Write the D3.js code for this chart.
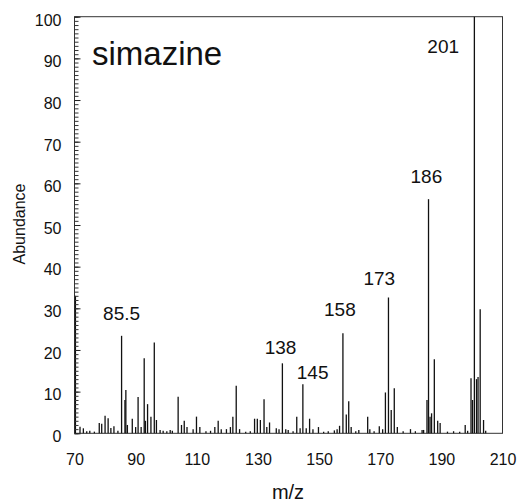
<!DOCTYPE html>
<html>
<head>
<meta charset="utf-8">
<script src="https://cdn.jsdelivr.net/npm/d3@7"></script>
<style>
  body { margin: 0; background: #fff; }
  svg { display: block; font-family: "Liberation Sans", Arial, Helvetica, sans-serif; }
</style>
</head>
<body>
<div id="chart"></div>
<script>
"use strict";

// peaks (m/z, abundance %)
var peakMz = [
	70.3, 71.8, 72.9, 74.0, 75.0, 76.5, 78.1, 78.9, 80.0, 81.0, 81.9, 82.9, 84.2,
	85.4, 86.5, 86.8, 87.3, 88.9, 90.0, 90.8, 91.8, 92.8, 93.2, 93.9, 95.0, 96.1, 96.8, 98.0,
	99.0, 100.2, 101.3, 102.0, 103.9, 105.0, 105.9, 106.8, 108.8, 109.9, 111.0, 113.0, 114.5,
	115.9, 117.0, 118.0, 119.7, 121.0, 121.8, 122.9, 124.0, 126.0, 127.5,
	128.9, 129.8, 130.8, 132.0, 132.9, 133.8, 136.0, 136.9, 138.0, 139.1, 139.9, 141.5,
	142.7, 143.8, 144.7, 145.8, 146.9, 148.0, 149.8, 151.5, 153.0, 155.0, 155.9, 156.7,
	157.8, 158.9, 159.7, 160.5, 162.0, 163.0, 165.9, 166.6, 168.0, 169.7, 170.8,
	171.7, 172.7, 173.6, 174.6, 175.6, 177.5, 179.9, 181.5, 183.7, 184.2,
	185.3, 185.8, 186.3, 186.8, 187.7, 188.8, 189.6, 192.0, 194.0, 196.0, 197.8, 198.6,
	199.7, 200.2, 200.8, 201.5, 202.0, 202.7, 203.8, 204.5
];
var peakAbund = [
	33, 1.6, 1.2, 0.5, 0.6, 0.4, 2.5, 2.3, 4.2, 3.6, 1.3, 1.7, 0.6,
	23.4, 8, 10.4, 2, 3.5, 1.5, 8.7, 1.5, 18, 3, 7, 4, 21.8, 3.2, 0.8,
	0.6, 0.5, 0.8, 0.6, 8.8, 2, 3, 1.5, 1, 4, 1.5, 0.5, 0.6,
	1.5, 3, 1, 1, 1.5, 4, 11.4, 1, 0.4, 0.5,
	3.5, 3.5, 3.2, 8.2, 1.5, 2.6, 1.2, 1, 16.8, 1, 0.8, 0.5,
	4, 1.2, 11.8, 1.2, 3.5, 1, 1.5, 0.4, 0.5, 0.7, 1, 1.8,
	24, 4.5, 7.7, 1.5, 0.5, 0.8, 4, 1, 0.5, 1.7, 1,
	9.8, 32.6, 5.6, 10.8, 1.5, 0.5, 1, 0.5, 0.8, 0.8,
	8, 56.2, 4, 4.8, 17.8, 3, 2.5, 0.4, 0.5, 0.4, 2, 0.6,
	13.2, 8, 100, 13, 13.5, 29.8, 3.2, 0.6
];

// annotations: text and where it sits (m/z, abundance of baseline)
var labelText = ["85.5", "138", "145", "158", "173", "186", "201"];
var labelMz = [85.4, 137.4, 147.9, 156.8, 169.7, 185.1, 190.6];
var labelAbund = [27.2, 19.0, 13.0, 28.1, 35.6, 60.0, 91.4];

var xTicks = [70, 90, 110, 130, 150, 170, 190, 210];
var yTicks = [0, 10, 20, 30, 40, 50, 60, 70, 80, 90, 100];
var compoundName = "simazine";

const width = 517, height = 504;
const plotLeft = 74.5, plotRight = 502.5, plotTop = 16.7, plotBottom = 433.3;

let x = d3.scaleLinear().domain([70, 210]).range([plotLeft, plotRight]);
let y = d3.scaleLinear().domain([0, 100]).range([plotBottom, plotTop]);

let svg = d3.select("#chart")
	.append("svg")
	.attr("width", width)
	.attr("height", height);

// frame
svg.append("rect")
	.attr("x", plotLeft)
	.attr("y", plotTop)
	.attr("width", plotRight - plotLeft)
	.attr("height", plotBottom - plotTop)
	.attr("fill", "none")
	.attr("stroke", "#333")
	.attr("stroke-width", 1);

// peaks
let peaks = peakMz.map((m, i) => ({mz: m, ab: peakAbund[i]}));
svg.append("g")
	.selectAll("line")
	.data(peaks)
	.enter()
	.append("line")
		.attr("x1", d => x(d.mz))
		.attr("x2", d => x(d.mz))
		.attr("y1", y(0))
		.attr("y2", d => y(d.ab))
		.attr("stroke", "#111")
		.attr("stroke-width", 1.3);

// y minor ticks (inside)
svg.append("g")
	.attr("transform", `translate(${plotLeft},0)`)
	.call(d3.axisRight(y).ticks(100).tickSize(4).tickFormat(""))
	.call(g => g.select(".domain").remove())
	.selectAll("line").attr("stroke", "#333");

// y major ticks (inside, longer)
svg.append("g")
	.attr("transform", `translate(${plotLeft},0)`)
	.call(d3.axisRight(y).tickValues(yTicks).tickSize(6).tickFormat(""))
	.call(g => g.select(".domain").remove())
	.selectAll("line").attr("stroke", "#222");

// y tick labels
let yAxis = svg.append("g")
	.attr("transform", `translate(${plotLeft},0)`)
	.call(d3.axisLeft(y).tickValues(yTicks).tickSize(0).tickPadding(13));
yAxis.select(".domain").remove();
yAxis.selectAll("text")
	.attr("dy", "0.52em")
	.style("font-size", "16px")
	.style("font-family", "'Liberation Sans', Arial, sans-serif")
	.attr("fill", "#111");

// x tick labels
let xAxis = svg.append("g")
	.attr("transform", `translate(0,${plotBottom})`)
	.call(d3.axisBottom(x).tickValues(xTicks).tickSize(0).tickPadding(20));
xAxis.select(".domain").remove();
xAxis.selectAll("text")
	.style("font-size", "16px")
	.style("font-family", "'Liberation Sans', Arial, sans-serif")
	.attr("fill", "#111");

// peak labels
svg.append("g")
	.selectAll("text")
	.data(labelText)
	.enter()
	.append("text")
		.attr("x", (d, i) => x(labelMz[i]))
		.attr("y", (d, i) => y(labelAbund[i]))
		.attr("text-anchor", "middle")
		.style("font-size", "19px")
		.attr("fill", "#111")
		.text(d => d);

// compound name
svg.append("text")
	.attr("x", 92)
	.attr("y", 65)
	.style("font-size", "33px")
	.attr("fill", "#111")
	.text(compoundName);

// axis titles
svg.append("text")
	.attr("transform", "translate(25,224) rotate(-90)")
	.attr("text-anchor", "middle")
	.style("font-size", "16px")
	.attr("fill", "#111")
	.text("Abundance");

svg.append("text")
	.attr("x", 288)
	.attr("y", 499)
	.attr("text-anchor", "middle")
	.style("font-size", "20px")
	.attr("fill", "#111")
	.text("m/z");
</script>
</body>
</html>
